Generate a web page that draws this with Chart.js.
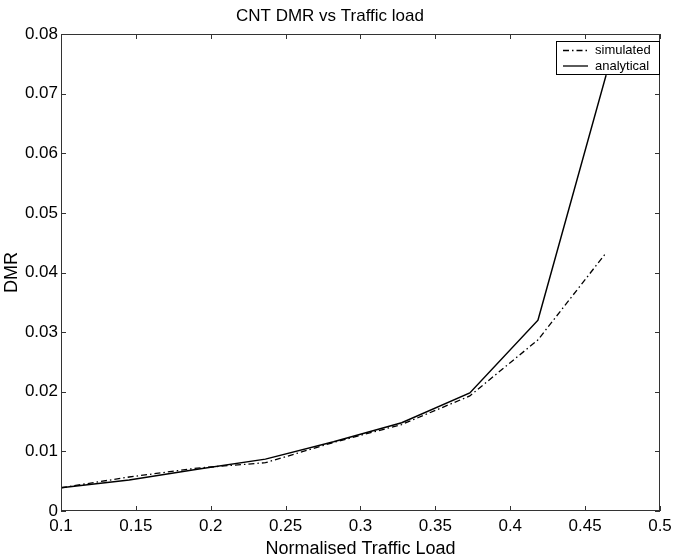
<!DOCTYPE html>
<html>
<head>
<meta charset="utf-8">
<script src="https://cdn.jsdelivr.net/npm/chart.js@4.4.1/dist/chart.umd.min.js"></script>
<style>
  html, body { margin: 0; padding: 0; background: #fff; }
  #wrap { width: 679px; height: 558px; }
</style>
</head>
<body>
<div id="wrap"><canvas id="myChart" width="679" height="558"></canvas></div>
<script>
// values
const trafficLoad = [0.1, 0.1455, 0.191, 0.2365, 0.282, 0.3275, 0.373, 0.4185, 0.464];
const simulated   = [0.0039, 0.0057, 0.0072, 0.0081, 0.0115, 0.0145, 0.0193, 0.0287, 0.0433];
const analytical  = [0.0039, 0.0052, 0.0070, 0.0087, 0.0116, 0.0148, 0.0198, 0.0320, 0.0731];

const xTicks = [0.1, 0.15, 0.2, 0.25, 0.3, 0.35, 0.4, 0.45, 0.5];
const yTicks = [0, 0.01, 0.02, 0.03, 0.04, 0.05, 0.06, 0.07, 0.08];

const FONT = "'Liberation Sans', Arial, Helvetica, sans-serif";
const AXIS_COLOR = '#333';

function toPoints(ys) {
  return trafficLoad.map((x, i) => ({ x: x, y: ys[i] }));
}

// box round the plot, inward ticks on all four sides, and the legend box
const matlabAxes = {
  id: 'matlabAxes',
  afterDatasetsDraw(chart) {
    const ctx = chart.ctx;
    const a = chart.chartArea;
    const xs = chart.scales.x;
    const ys = chart.scales.y;
    const tl = 5;
    ctx.save();
    ctx.strokeStyle = AXIS_COLOR;
    ctx.lineWidth = 1;
    ctx.strokeRect(a.left + 0.5, a.top + 0.5, a.right - a.left - 1, a.bottom - a.top - 1);
    ctx.beginPath();
    xTicks.forEach(v => {
      const px = Math.round(xs.getPixelForValue(v)) + 0.5;
      ctx.moveTo(px, a.bottom); ctx.lineTo(px, a.bottom - tl);
      ctx.moveTo(px, a.top); ctx.lineTo(px, a.top + tl);
    });
    yTicks.forEach(v => {
      const py = Math.round(ys.getPixelForValue(v)) + 0.5;
      ctx.moveTo(a.left, py); ctx.lineTo(a.left + tl, py);
      ctx.moveTo(a.right, py); ctx.lineTo(a.right - tl, py);
    });
    ctx.stroke();

    // legend
    const bx = 556, by = 41, bw = 103, bh = 33;
    ctx.fillStyle = '#fff';
    ctx.fillRect(bx, by, bw, bh);
    ctx.strokeStyle = '#000';
    ctx.strokeRect(bx + 0.5, by + 0.5, bw, bh);
    ctx.font = '13px ' + FONT;
    ctx.textBaseline = 'middle';
    chart.data.datasets.forEach((ds, i) => {
      const ly = by + 9.5 + i * 15.5;
      ctx.beginPath();
      ctx.strokeStyle = '#000';
      ctx.lineWidth = 1.3;
      ctx.setLineDash(ds.borderDash || []);
      ctx.moveTo(bx + 7, ly); ctx.lineTo(bx + 32, ly);
      ctx.stroke();
      ctx.setLineDash([]);
      ctx.fillStyle = '#000';
      ctx.fillText(ds.label, bx + 39, ly);
    });
    ctx.restore();
  }
};

const ctx = document.getElementById('myChart').getContext('2d');
const myChart = new Chart(ctx, {
  type: 'line',
  data: {
    datasets: [
      {
        label: 'simulated',
        data: toPoints(simulated),
        borderColor: '#000',
        borderWidth: 1.3,
        borderDash: [6, 3, 1.5, 3],
        pointRadius: 0,
        tension: 0,
        fill: false
      },
      {
        label: 'analytical',
        data: toPoints(analytical),
        borderColor: '#000',
        borderWidth: 1.5,
        pointRadius: 0,
        tension: 0,
        fill: false
      }
    ]
  },
  options: {
    responsive: false,
    animation: false,
    layout: { padding: { left: 0, right: 19, top: 0, bottom: 0 } },
    plugins: {
      legend: { display: false },
      tooltip: { enabled: false },
      title: {
        display: true,
        text: 'CNT DMR vs Traffic load',
        color: '#000',
        font: { family: FONT, size: 17, weight: 'normal' },
        padding: { top: 6, bottom: 7.6 }
      }
    },
    scales: {
      x: {
        type: 'linear',
        min: 0.1,
        max: 0.5,
        afterBuildTicks: s => { s.ticks = xTicks.map(v => ({ value: v })); },
        afterFit: s => { s.height = 47; },
        grid: { display: false, drawTicks: false },
        border: { display: false },
        ticks: {
          color: '#000',
          font: { family: FONT, size: 17 },
          padding: 5,
          maxRotation: 0,
          callback: v => String(v)
        },
        title: {
          display: true,
          text: 'Normalised Traffic Load',
          color: '#000',
          font: { family: FONT, size: 18, lineHeight: 1 },
          padding: { top: 0, bottom: 0 }
        }
      },
      y: {
        type: 'linear',
        min: 0,
        max: 0.08,
        afterBuildTicks: s => { s.ticks = yTicks.map(v => ({ value: v })); },
        afterFit: s => { s.width = 61; },
        grid: { display: false, drawTicks: false },
        border: { display: false },
        ticks: {
          color: '#000',
          font: { family: FONT, size: 17 },
          padding: 3,
          callback: v => String(v)
        },
        title: {
          display: true,
          text: 'DMR',
          color: '#000',
          font: { family: FONT, size: 18, lineHeight: 1.2 },
          padding: { top: 1, bottom: 0 }
        }
      }
    }
  },
  plugins: [matlabAxes]
});
</script>
</body>
</html>
